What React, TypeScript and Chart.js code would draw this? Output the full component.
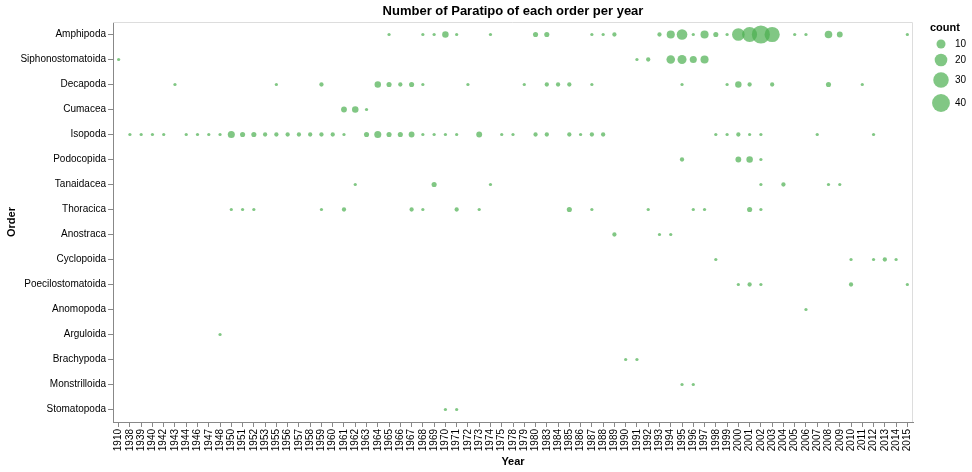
import React, { useEffect, useRef } from "react";
import { Chart, registerables } from "chart.js";

Chart.register(...registerables);

const YEARS: string[] = [
  "1910", "1938", "1939", "1940", "1942", "1943", "1944", "1946", "1947", "1948",
  "1950", "1951", "1952", "1953", "1955", "1956", "1957", "1958", "1959", "1960",
  "1961", "1962", "1963", "1964", "1965", "1966", "1967", "1968", "1969", "1970",
  "1971", "1972", "1973", "1974", "1975", "1978", "1979", "1980", "1983", "1984",
  "1985", "1986", "1987", "1988", "1989", "1990", "1991", "1992", "1993", "1994",
  "1995", "1996", "1997", "1998", "1999", "2000", "2001", "2002", "2003", "2004",
  "2005", "2006", "2007", "2008", "2009", "2010", "2011", "2012", "2013", "2014", "2015",
];

const ORDERS: string[] = [
  "Amphipoda", "Siphonostomatoida", "Decapoda", "Cumacea", "Isopoda", "Podocopida",
  "Tanaidacea", "Thoracica", "Anostraca", "Cyclopoida", "Poecilostomatoida",
  "Anomopoda", "Arguloida", "Brachypoda", "Monstrilloida", "Stomatopoda",
];

type Pt = [number, number]; // [year, count]

const amphipoda: Pt[] = [
  [1965, 1], [1968, 1], [1969, 1], [1970, 5], [1971, 1], [1974, 1], [1980, 3], [1983, 3],
  [1987, 1], [1988, 1], [1989, 2], [1993, 2], [1994, 8], [1995, 14], [1996, 1], [1997, 8],
  [1998, 3], [1999, 1], [2000, 20], [2001, 28], [2002, 41], [2003, 29], [2005, 1], [2006, 1],
  [2008, 7], [2009, 4], [2015, 1],
];
const siphonostomatoida: Pt[] = [
  [1910, 1], [1991, 1], [1992, 2], [1994, 9], [1995, 10], [1996, 6], [1997, 8],
];
const decapoda: Pt[] = [
  [1943, 1], [1955, 1], [1959, 2], [1964, 5], [1965, 3], [1966, 2], [1967, 3], [1968, 1],
  [1972, 1], [1979, 1], [1983, 2], [1984, 2], [1985, 2], [1987, 1], [1995, 1], [1999, 1],
  [2000, 5], [2001, 2], [2003, 2], [2008, 3], [2011, 1],
];
const cumacea: Pt[] = [[1961, 4], [1962, 5], [1963, 1]];
const isopoda: Pt[] = [
  [1938, 1], [1939, 1], [1940, 1], [1942, 1], [1944, 1], [1946, 1], [1947, 1], [1948, 1],
  [1950, 6], [1951, 3], [1952, 3], [1953, 2], [1955, 2], [1956, 2], [1957, 2], [1958, 2],
  [1959, 2], [1960, 2], [1961, 1], [1963, 3], [1964, 6], [1965, 3], [1966, 3], [1967, 4],
  [1968, 1], [1969, 1], [1970, 1], [1971, 1], [1973, 4], [1975, 1], [1978, 1], [1980, 2],
  [1983, 2], [1985, 2], [1986, 1], [1987, 2], [1988, 2], [1998, 1], [1999, 1], [2000, 2],
  [2001, 1], [2002, 1], [2007, 1], [2012, 1],
];
const podocopida: Pt[] = [[1995, 2], [2000, 4], [2001, 5], [2002, 1]];
const tanaidacea: Pt[] = [
  [1962, 1], [1969, 3], [1974, 1], [2002, 1], [2004, 2], [2008, 1], [2009, 1],
];
const thoracica: Pt[] = [
  [1950, 1], [1951, 1], [1952, 1], [1959, 1], [1961, 2], [1967, 2], [1968, 1], [1971, 2],
  [1973, 1], [1985, 3], [1987, 1], [1992, 1], [1996, 1], [1997, 1], [2001, 3], [2002, 1],
];
const anostraca: Pt[] = [[1989, 2], [1993, 1], [1994, 1]];
const cyclopoida: Pt[] = [[1998, 1], [2010, 1], [2012, 1], [2013, 2], [2014, 1]];
const poecilostomatoida: Pt[] = [[2000, 1], [2001, 2], [2002, 1], [2010, 2], [2015, 1]];
const anomopoda: Pt[] = [[2006, 1]];
const arguloida: Pt[] = [[1948, 1]];
const brachypoda: Pt[] = [[1990, 1], [1991, 1]];
const monstrilloida: Pt[] = [[1995, 1], [1996, 1]];
const stomatopoda: Pt[] = [[1970, 1], [1971, 1]];

const SERIES: [string, Pt[]][] = [
  ["Amphipoda", amphipoda],
  ["Siphonostomatoida", siphonostomatoida],
  ["Decapoda", decapoda],
  ["Cumacea", cumacea],
  ["Isopoda", isopoda],
  ["Podocopida", podocopida],
  ["Tanaidacea", tanaidacea],
  ["Thoracica", thoracica],
  ["Anostraca", anostraca],
  ["Cyclopoida", cyclopoida],
  ["Poecilostomatoida", poecilostomatoida],
  ["Anomopoda", anomopoda],
  ["Arguloida", arguloida],
  ["Brachypoda", brachypoda],
  ["Monstrilloida", monstrilloida],
  ["Stomatopoda", stomatopoda],
];

const LEGEND_COUNTS = [10, 20, 30, 40];

const FONT = "'Liberation Sans', Arial, Helvetica, sans-serif";
const FILL = "rgba(76,175,80,0.7)";

const radiusFor = (v: number) => Math.sqrt((2 + 6.2 * v) / Math.PI);

const extrasPlugin = {
  id: "extras",
  beforeDatasetsDraw(chart: any) {
    const { ctx, chartArea: a } = chart;
    ctx.save();
    ctx.strokeStyle = "#ddd";
    ctx.lineWidth = 1;
    ctx.beginPath();
    ctx.moveTo(a.left, a.top + 0.5);
    ctx.lineTo(a.right - 0.5, a.top + 0.5);
    ctx.lineTo(a.right - 0.5, a.bottom);
    ctx.stroke();
    ctx.restore();
  },
  afterDraw(chart: any) {
    const { ctx, chartArea: a } = chart;
    ctx.save();
    ctx.fillStyle = "#000";
    // title
    ctx.font = `bold 13px ${FONT}`;
    ctx.textAlign = "center";
    ctx.textBaseline = "alphabetic";
    ctx.fillText("Number of Paratipo of each order per year", (a.left + a.right) / 2, 15);
    // x title
    ctx.font = `bold 11px ${FONT}`;
    ctx.fillText("Year", (a.left + a.right) / 2, 465);
    // y title
    ctx.save();
    ctx.translate(15, (a.top + a.bottom) / 2);
    ctx.rotate(-Math.PI / 2);
    ctx.fillText("Order", 0, 0);
    ctx.restore();
    // legend
    ctx.textAlign = "left";
    ctx.font = `bold 11px ${FONT}`;
    ctx.fillText("count", 930, 31);
    const ys = [44, 60, 80, 103];
    ctx.font = `10px ${FONT}`;
    ctx.textBaseline = "middle";
    LEGEND_COUNTS.forEach((c, i) => {
      ctx.beginPath();
      ctx.fillStyle = FILL;
      ctx.arc(941, ys[i], radiusFor(c), 0, Math.PI * 2);
      ctx.fill();
      ctx.fillStyle = "#000";
      ctx.fillText(String(c), 955, ys[i]);
    });
    ctx.restore();
  },
};

export default function App() {
  const ref = useRef<HTMLCanvasElement | null>(null);
  useEffect(() => {
    if (!ref.current) return;
    const points: any[] = [];
    SERIES.forEach(([order, pts]) => {
      pts.forEach(([year, count]) => {
        points.push({ x: String(year), y: order, r: radiusFor(count), count });
      });
    });
    const chart = new Chart(ref.current, {
      type: "bubble",
      data: {
        datasets: [
          {
            label: "count",
            data: points,
            backgroundColor: FILL,
            borderWidth: 0,
            hoverBorderWidth: 0,
          },
        ],
      },
      options: {
        responsive: false,
        animation: false,
        layout: { padding: { top: 22, right: 59, left: 0, bottom: 0 } },
        plugins: {
          legend: { display: false },
          tooltip: { enabled: false },
          title: { display: false },
        },
        scales: {
          x: {
            type: "category",
            labels: YEARS,
            offset: true,
            afterFit: (s: any) => {
              s.height = 50;
            },
            grid: {
              drawOnChartArea: false,
              drawTicks: true,
              tickLength: 5,
              color: "#888",
              offset: false,
            },
            border: { display: true, color: "#888" },
            ticks: {
              autoSkip: false,
              minRotation: 90,
              maxRotation: 90,
              padding: 2,
              color: "#000",
              font: { family: FONT, size: 10 },
            },
          },
          y: {
            type: "category",
            labels: ORDERS,
            offset: true,
            afterFit: (s: any) => {
              s.width = 113;
            },
            grid: {
              drawOnChartArea: false,
              drawTicks: true,
              tickLength: 5,
              color: "#888",
              offset: false,
            },
            border: { display: true, color: "#888" },
            ticks: {
              autoSkip: false,
              padding: 2,
              color: "#000",
              font: { family: FONT, size: 10 },
            },
          },
        },
      } as any,
      plugins: [extrasPlugin],
    });
    return () => chart.destroy();
  }, []);
  return (
    <div style={{ position: "absolute", left: 0, top: 0, width: 972, height: 472, background: "#fff" }}>
      <canvas ref={ref} width={972} height={472} style={{ width: 972, height: 472, display: "block" }} />
    </div>
  );
}
